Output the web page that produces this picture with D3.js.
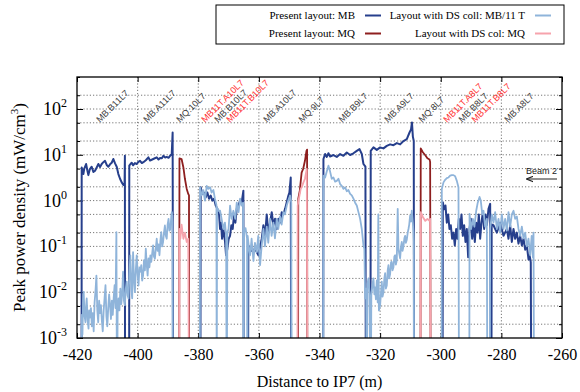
<!DOCTYPE html>
<html>
<head>
<meta charset="utf-8">
<script src="https://cdn.jsdelivr.net/npm/d3@7/dist/d3.min.js"></script>
<style>
  body { margin: 0; background: #fff; }
  svg { display: block; }
</style>
</head>
<body>
<svg id="chart" width="580" height="392"></svg>
<script>
// values below 1e-3 are off the bottom of the log axis (1e-5 = "zero")
const mbPresent = [
  [-418.5,1e-5],[-418.45,5.3],[-418.2,4.5],[-417.9,3.8],[-417.6,5.0],[-417.0,6.3],[-416.6,4.6],[-416.25,3.6],
  [-415.8,4.8],[-415.15,5.5],[-414.6,4.2],[-414.05,4.5],[-413.5,5.3],[-412.95,6.3],[-412.4,5.4],[-411.85,6.3],
  [-411.3,6.9],[-410.75,7.4],[-410.2,6.0],[-409.65,5.5],[-409.1,6.2],[-408.55,6.7],[-408.0,8.1],[-407.45,6.5],
  [-406.9,5.5],[-406.35,3.8],[-405.8,3.0],[-405.25,2.5],[-404.7,2.2],[-404.3,2.4],[-404.2,9.5],[-404.15,1e-5],
  [-402.8,1e-5],[-402.75,5.8],[-402.35,6.3],[-401.95,6.7],[-401.5,5.9],[-400.9,6.6],[-400.3,6.3],[-399.75,7.0],
  [-399.2,7.4],[-398.6,6.6],[-398.1,6.9],[-397.3,7.6],[-396.45,8.8],[-395.9,7.5],[-395.35,7.8],[-394.5,8.3],
  [-393.7,8.8],[-393.1,7.9],[-392.6,8.5],[-392.0,8.4],[-391.5,9.5],[-390.9,8.7],[-390.4,9.0],[-389.8,8.6],
  [-389.3,9.5],[-388.75,10.3],[-388.45,30.6],[-388.3,1e-5],
  [-379.3,1e-5],[-379.2,1.95],[-378.64,1.4],[-378.09,1.5],[-377.54,1.18],[-376.99,1.5],[-376.44,1.1],[-375.89,1.29],
  [-375.34,1.0],[-374.79,1.1],[-374.24,0.78],[-373.69,0.66],[-373.14,0.5],[-372.81,0.24],[-372.48,0.33],[-372.15,0.147],
  [-371.71,0.24],[-371.16,0.125],[-370.83,0.064],[-370.39,0.089],[-369.95,0.147],[-369.51,0.17],[-369.07,0.29],
  [-368.63,0.24],[-368.19,0.5],[-367.75,0.33],[-367.31,0.66],[-366.76,0.78],[-366.21,1.0],[-365.66,0.92],
  [-365.11,1.65],[-364.95,1e-5],
  [-363.6,1e-5],[-363.46,0.105],[-362.36,0.08],[-361.26,0.089],[-360.16,0.064],[-359.06,0.147],[-358.51,0.29],
  [-357.96,0.17],[-357.41,0.5],[-356.86,0.2],[-356.31,0.33],[-355.76,0.56],[-355.21,0.29],[-354.66,0.4],
  [-354.11,0.24],[-353.56,0.4],[-353.01,0.33],[-352.46,0.56],[-351.91,0.5],[-351.36,0.66],[-350.81,0.92],
  [-350.26,1.29],[-349.93,1.5],[-349.49,3.2],[-349.3,1e-5],
  [-338.8,1e-5],[-338.7,8.1],[-338.15,10.4],[-337.6,9.0],[-337.05,10.8],[-336.5,9.2],[-335.4,9.9],[-334.3,9.0],
  [-333.2,10.4],[-332.1,9.5],[-331.0,11.2],[-329.9,9.9],[-328.8,10.8],[-327.7,12.2],[-326.8,13.3],[-326.05,10.4],
  [-325.5,6.3],[-324.85,5.5],[-324.7,1e-5],
  [-323.2,1e-5],[-323.1,12.2],[-322.2,14.5],[-321.1,12.8],[-320.0,14.5],[-318.9,13.8],[-317.8,15.7],[-316.7,16.9],
  [-315.6,16.2],[-314.5,18.0],[-313.4,16.9],[-312.3,20.0],[-311.2,22.0],[-310.3,30.7],[-309.8,36],[-309.5,51],
  [-309.2,25],[-308.9,20],[-308.8,1e-5],
  [-299.4,1e-5],[-299.32,0.92],[-298.88,0.65],[-298.44,0.78],[-298.0,0.33],[-297.56,0.5],[-297.12,0.24],
  [-296.68,0.29],[-296.24,0.147],[-295.8,0.2],[-295.36,0.105],[-294.92,0.24],[-294.48,0.147],[-294.04,0.4],
  [-293.6,0.24],[-293.16,0.5],[-292.72,0.17],[-292.28,0.29],[-291.84,0.125],[-291.4,0.24],[-290.96,0.058],
  [-290.52,0.24],[-290.08,0.4],[-289.64,0.147],[-289.2,0.29],[-288.76,0.125],[-288.32,0.33],[-287.88,0.2],
  [-287.44,0.5],[-287.0,0.147],[-286.56,0.33],[-286.12,0.56],[-285.68,0.24],[-285.24,0.5],[-284.8,0.29],
  [-284.25,0.66],[-283.7,0.85],[-283.4,1e-5],
  [-283.3,1e-5],[-283.2,0.3],[-282.6,0.29],[-281.5,0.2],[-280.4,0.33],[-279.3,0.17],[-278.2,0.24],[-277.65,0.147],
  [-277.1,0.29],[-276.55,0.125],[-276.0,0.24],[-275.45,0.147],[-274.9,0.2],[-274.35,0.115],[-273.8,0.17],
  [-273.25,0.105],[-272.7,0.147],[-272.15,0.085],[-271.6,0.105],[-271.05,0.052],[-270.7,0.064],[-270.3,0.045],
  [-270.1,1e-5]
];

const mqPresent = [
  [-386.3,1e-5],[-386.2,8.4],[-385.5,8.1],[-384.9,5.3],[-384.4,3.0],[-383.8,1.8],[-383.3,1.4],[-383.05,1.3],[-383.0,1e-5],
  [-347.1,1e-5],[-347.0,1.1],[-346.5,1.65],[-345.9,4.1],[-345.4,4.9],[-344.8,7.4],[-344.3,12.2],[-344.1,13],[-344.0,1e-5],
  [-306.7,1e-5],[-306.6,13.8],[-305.9,11.4],[-305.1,9.8],[-304.4,8.4],[-303.7,7.9],[-303.5,7.0],[-303.3,1e-5]
];

const mbDS = [
  [-418.5,1e-5],[-418.4,0.0032],[-418.2,0.0012],[-418.0,0.006],[-417.8,0.0102],[-417.5,0.003],[-417.2,0.0022],
  [-417.0,0.005],[-416.8,0.0073],[-416.5,0.0025],[-416.2,0.0016],[-416.0,0.004],[-415.7,0.0028],[-415.4,0.0045],
  [-415.1,0.0018],[-414.8,0.0035],[-414.5,0.0014],[-414.2,0.006],[-413.9,0.0105],[-413.6,0.023],[-413.3,0.004],
  [-413.0,0.0022],[-412.7,0.0065],[-412.4,0.0035],[-412.1,0.0052],[-411.8,0.0024],[-411.5,0.0014],[-411.2,0.004],
  [-410.9,0.0075],[-410.6,0.0142],[-410.3,0.003],[-410.0,0.0018],[-409.7,0.0045],[-409.4,0.009],[-409.1,0.0052],
  [-408.8,0.0026],[-408.5,0.0065],[-408.2,0.0032],[-407.9,0.0075],[-407.6,0.0142],[-407.3,0.0045],[-407.0,0.205],
  [-406.8,1e-5],[-406.6,0.0035],[-406.3,0.0073],[-406.0,0.004],[-405.7,0.012],[-405.4,0.0055],[-405.1,0.009],
  [-404.8,0.028],[-404.5,0.0065],[-404.2,0.0052],[-403.9,0.012],[-403.6,0.017],[-403.3,0.0085],[-403.0,0.0073],
  [-402.7,0.025],[-402.4,0.064],[-402.1,0.012],[-401.8,0.0073],[-401.5,0.075],[-401.2,0.02],[-400.9,0.01],
  [-400.6,0.03],[-400.3,0.064],[-400.0,0.025],[-399.7,0.014],[-399.4,0.035],[-399.1,0.028],[-398.8,0.039],
  [-398.5,0.018],[-398.2,0.023],[-397.9,0.05],[-397.6,0.03],[-397.3,0.089],[-397.0,0.04],[-396.7,0.023],
  [-396.4,0.055],[-396.1,0.035],[-395.8,0.064],[-395.5,0.046],[-395.2,0.07],[-394.9,0.105],[-394.6,0.06],
  [-394.3,0.054],[-394.0,0.09],[-393.7,0.147],[-393.4,0.08],[-393.1,0.11],[-392.8,0.064],[-392.5,0.13],
  [-392.2,0.205],[-391.9,0.1],[-391.6,0.125],[-391.3,0.2],[-391.0,0.286],[-390.7,0.17],[-390.4,0.147],
  [-390.1,0.3],[-389.8,0.4],[-389.5,0.22],[-389.2,0.24],[-388.9,0.45],[-388.7,0.56],[-388.5,0.34],[-388.4,1e-5],
  [-379.5,1e-5],[-379.4,1.95],[-378.9,1.3],[-378.3,1.7],[-377.8,1.0],[-377.2,2.1],[-376.7,1.8],[-376.1,1.95],
  [-375.6,1.5],[-375.0,1.7],[-374.5,1.1],[-374.0,0.8],[-373.9,1e-5],[-373.8,0.7],[-373.3,0.6],[-372.8,0.6],
  [-372.3,0.4],[-371.7,0.24],[-371.2,0.33],[-370.8,0.17],[-370.6,1e-5],[-370.4,0.2],[-370.0,0.24],[-369.5,0.78],
  [-369.0,0.4],[-368.4,0.6],[-367.8,0.4],[-367.3,0.9],[-366.7,0.56],[-366.2,1.1],[-365.7,0.78],[-365.2,0.9],
  [-365.1,1e-5],[-364.9,0.2],[-364.4,0.25],[-363.9,0.15],[-363.8,1e-5],[-363.7,0.17],[-363.4,0.11],[-362.9,0.064],
  [-362.4,0.147],[-361.8,0.048],[-361.3,0.12],[-360.7,0.075],[-360.2,0.17],[-359.6,0.039],[-359.1,0.1],
  [-358.5,0.24],[-358.0,0.1],[-357.4,0.27],[-356.9,0.12],[-356.3,0.4],[-355.8,0.17],[-355.2,0.33],[-354.7,0.15],
  [-354.1,0.4],[-353.6,0.24],[-353.0,0.45],[-352.5,0.3],[-351.9,0.56],[-351.4,0.5],[-350.8,0.78],[-350.3,1.0],
  [-349.7,1.29],[-349.3,0.9],[-349.2,1e-5],
  [-338.8,1e-5],[-338.7,3.5],[-338.15,3.2],[-337.6,4.3],[-337.05,5.8],[-336.5,4.3],[-335.95,3.0],[-335.4,3.2],
  [-334.85,2.6],[-334.3,2.7],[-333.75,3.0],[-333.2,2.3],[-332.65,2.1],[-332.1,1.8],[-331.55,1.95],[-331.0,1.6],
  [-330.45,1.7],[-329.9,1.4],[-329.35,1.3],[-328.8,1.1],[-328.25,0.9],[-327.7,0.78],[-327.15,0.56],[-326.6,0.4],
  [-326.05,0.24],[-325.5,0.105],[-325.2,0.089],[-324.95,0.0073],[-324.6,0.012],[-324.4,1e-5],[-324.2,0.015],
  [-323.85,0.02],[-323.5,0.01],[-323.1,1e-5],[-322.9,0.0086],[-322.5,0.015],[-322.2,0.02],[-321.9,0.009],
  [-321.65,0.0128],[-321.4,0.007],[-321.1,0.018],[-320.8,0.006],[-320.6,0.5],[-320.4,0.004],[-320.0,0.0052],
  [-319.7,0.01],[-319.45,0.017],[-319.2,0.008],[-318.9,0.01],[-318.6,0.02],[-318.35,0.026],[-318.1,0.012],
  [-317.8,0.014],[-317.5,0.03],[-317.25,0.039],[-317.0,0.02],[-316.7,0.025],[-316.4,0.045],[-316.15,0.046],
  [-315.9,0.03],[-315.6,0.035],[-315.3,0.06],[-315.05,0.064],[-314.8,0.04],[-314.5,0.05],[-314.2,0.66],
  [-313.95,0.089],[-313.7,0.07],[-313.4,0.055],[-313.1,0.1],[-312.85,0.125],[-312.6,0.08],[-312.3,0.1],
  [-312.0,0.15],[-311.75,0.17],[-311.5,0.12],[-311.2,0.14],[-310.9,0.2],[-310.65,0.24],[-310.4,0.3],
  [-310.1,0.47],[-309.8,0.35],[-309.55,0.6],[-309.2,0.33],[-309.0,0.2],[-308.9,0.13],[-308.8,1e-5],
  [-299.7,1e-5],[-299.65,1.8],[-299.1,2.5],[-298.55,2.85],[-298.0,3.1],[-297.45,3.2],[-296.9,3.5],[-296.35,3.6],
  [-295.8,3.6],[-295.25,3.4],[-294.7,2.7],[-294.15,1.95],[-293.95,1e-5],
  [-290.6,1e-5],[-290.5,0.51],[-290.0,0.24],[-289.4,0.4],[-288.9,0.27],[-288.3,0.6],[-287.8,0.9],[-287.2,1.2],
  [-286.8,1.0],[-286.3,0.5],[-285.9,0.6],[-285.35,0.27],[-284.8,0.4],[-284.6,1e-5],
  [-283.8,1e-5],[-283.7,0.24],[-283.15,0.5],[-282.6,0.33],[-282.05,0.56],[-281.5,0.24],[-280.95,0.4],[-280.4,0.2],
  [-279.85,0.5],[-279.3,0.24],[-278.75,0.4],[-278.2,0.22],[-277.65,0.56],[-277.1,0.27],[-276.55,0.5],[-276.0,0.6],
  [-275.45,0.4],[-274.9,0.45],[-274.35,0.24],[-273.8,0.17],[-273.25,0.27],[-272.7,0.15],[-272.15,0.2],
  [-271.6,0.1],[-271.05,0.147],[-270.5,0.064],[-270.0,0.17],[-269.6,0.058],[-269.4,0.2],[-269.2,1e-5]
];

const mqDS = [
  [-386.3,1e-5],[-386.2,0.24],[-385.9,0.147],[-385.5,0.3],[-384.9,0.147],[-384.4,0.2],[-383.8,0.125],[-383.3,0.147],[-383.0,1e-5],
  [-347.3,1e-5],[-347.2,0.78],[-346.6,1.3],[-346.2,1.8],[-345.8,2.0],[-345.3,2.5],[-344.8,3.0],[-344.2,4.9],[-343.9,1e-5],
  [-306.7,1e-5],[-306.6,0.56],[-305.9,0.44],[-305.1,0.36],[-304.4,0.4],[-303.7,0.36],[-303.5,0.4],[-303.3,1e-5]
];

const magnetNames = ["MB.B11L7","MB.A11L7","MQ.10L7","MB11T.A10L7","MB.B10L7","MB11T.B10L7","MB.A10L7","MQ.9L7",
  "MB.B9L7","MB.A9L7","MQ.8L7","MB11T.A8L7","MB.B8L7","MB11T.B8L7","MB.A8L7"];
const magnetPos = [-412.4,-396.9,-386.0,-377.8,-373.5,-369.5,-357.3,-345.7,-332.5,-317.4,-306.1,-297.9,-292.9,-288.6,-277.8];
const magnetIs11T = [false,false,false,true,false,true,false,false,false,false,false,true,false,true,false];

const xTicks = [-420,-400,-380,-360,-340,-320,-300,-280,-260];
const yExponents = [-3,-2,-1,0,1,2];

const seriesNames = ["Present layout: MB","Present layout: MQ","Layout with DS coll: MB/11 T","Layout with DS col: MQ"];
const seriesColors = ["#263f8c","#8e1f1f","#8fb4da","#f6a3ac"];

const plot = {left: 77, right: 562, top: 77, bottom: 338};
const serif = "'Liberation Serif', 'Times New Roman', serif";
const sans = "'Liberation Sans', Arial, sans-serif";

const svg = d3.select("#chart");

const x = d3.scaleLinear().domain([-420, -260]).range([plot.left, plot.right]);
const y = d3.scaleLog().domain([1e-3, 500]).range([plot.bottom, plot.top]);

// grid values at 1, 2, 5 x 10^n
const gridY = [];
yExponents.forEach(e => [1, 2, 5].forEach(m => gridY.push(m * Math.pow(10, e))));
const gridYInner = gridY.filter(v => v > 1.0001e-3 && v < 499);
const minorY = gridY.filter(v => !yExponents.some(e => Math.abs(v - Math.pow(10, e)) < 1e-12));

const grid = svg.append("g").attr("stroke", "#666").attr("stroke-width", 0.9).attr("stroke-dasharray", "1.2,2");
grid.selectAll(".gx").data(xTicks.slice(1, -1)).join("line")
  .attr("x1", d => x(d)).attr("x2", d => x(d)).attr("y1", plot.top).attr("y2", plot.bottom);
grid.selectAll(".gy").data(gridYInner).join("line")
  .attr("x1", plot.left).attr("x2", plot.right).attr("y1", d => y(d)).attr("y2", d => y(d));

// axes ticks (inward, all four sides)
svg.append("g").attr("transform", `translate(0,${plot.bottom})`)
  .call(d3.axisBottom(x).tickValues(xTicks).tickSizeInner(-5).tickSizeOuter(0).tickPadding(11).tickFormat(d => String(d)))
  .call(g => g.select(".domain").remove())
  .call(g => g.selectAll(".tick text").attr("font-family", serif).attr("font-size", 16).attr("fill", "#000"));
svg.append("g").attr("transform", `translate(0,${plot.top})`)
  .call(d3.axisTop(x).tickValues(xTicks).tickSizeInner(-5).tickSizeOuter(0).tickFormat(""))
  .call(g => g.select(".domain").remove());
[[d3.axisLeft, plot.left], [d3.axisRight, plot.right]].forEach(([ax, pos]) => {
  svg.append("g").attr("transform", `translate(${pos},0)`)
    .call(ax(y).tickValues(yExponents.map(e => Math.pow(10, e))).tickSizeInner(-6).tickSizeOuter(0).tickFormat(""))
    .call(g => g.select(".domain").remove());
  svg.append("g").attr("transform", `translate(${pos},0)`)
    .call(ax(y).tickValues(minorY).tickSizeInner(-3).tickSizeOuter(0).tickFormat(""))
    .call(g => g.select(".domain").remove());
});

// y tick labels 10^n
const yLab = svg.append("g").attr("font-family", serif).attr("fill", "#000");
yExponents.forEach(e => {
  const t = yLab.append("text").attr("x", plot.left - 10).attr("y", y(Math.pow(10, e)) + 6)
    .attr("text-anchor", "end").attr("font-size", 18).text("10");
  t.append("tspan").attr("dy", -8).attr("font-size", 12).text(e);
});

// data lines
svg.append("clipPath").attr("id", "plotclip").append("rect")
  .attr("x", plot.left).attr("y", plot.top).attr("width", plot.right - plot.left).attr("height", plot.bottom - plot.top);
const line = d3.line().x(d => x(d[0])).y(d => y(d[1]));
const lines = svg.append("g").attr("clip-path", "url(#plotclip)");
[mbPresent, mqPresent, mbDS, mqDS].forEach((s, i) => {
  lines.append("path").attr("d", line(s)).attr("fill", "none")
    .attr("stroke", seriesColors[i]).attr("stroke-width", i === 0 ? 2 : 1.8)
    .attr("stroke-linejoin", "round");
});

// magnet labels
const mLab = svg.append("g").attr("font-family", sans).attr("font-size", 9);
magnetNames.forEach((n, i) => {
  mLab.append("text")
    .attr("transform", `translate(${x(magnetPos[i])},123) rotate(-45)`)
    .attr("fill", magnetIs11T[i] ? "#ff2b2b" : "#3a3a3a")
    .text(n);
});

// beam direction
svg.append("defs").append("marker").attr("id", "arr").attr("viewBox", "0 0 10 10")
  .attr("refX", 9).attr("refY", 5).attr("markerWidth", 7).attr("markerHeight", 7).attr("orient", "auto")
  .append("path").attr("d", "M0,1 L10,5 L0,9").attr("fill", "none").attr("stroke", "#222").attr("stroke-width", 1.5);
svg.append("line").attr("x1", 557).attr("x2", 527).attr("y1", 179).attr("y2", 179)
  .attr("stroke", "#222").attr("stroke-width", 1).attr("marker-end", "url(#arr)");
svg.append("text").attr("x", 526).attr("y", 174).attr("font-family", sans).attr("font-size", 9)
  .attr("fill", "#222").text("Beam 2");

// frame
svg.append("rect").attr("x", plot.left).attr("y", plot.top)
  .attr("width", plot.right - plot.left).attr("height", plot.bottom - plot.top)
  .attr("fill", "none").attr("stroke", "#000").attr("stroke-width", 1.3);

// axis titles
svg.append("text").attr("x", (plot.left + plot.right) / 2).attr("y", 387)
  .attr("text-anchor", "middle").attr("font-family", serif).attr("font-size", 16).text("Distance to IP7 (m)");
const yt = svg.append("text").attr("transform", `translate(25,${(plot.top + plot.bottom) / 2}) rotate(-90)`)
  .attr("text-anchor", "middle").attr("font-family", serif).attr("font-size", 17);
yt.append("tspan").text("Peak power density (mW/cm");
yt.append("tspan").attr("dy", -7).attr("font-size", 11).text("3");
yt.append("tspan").attr("dy", 7).text(")");

// legend
const leg = svg.append("g");
leg.append("rect").attr("x", 216).attr("y", 5).attr("width", 348).attr("height", 39)
  .attr("fill", "#fff").attr("stroke", "#000").attr("stroke-width", 1);
const legPos = [[355, 19], [355, 37], [525, 19], [525, 37]];
seriesNames.forEach((n, i) => {
  const [lx, ly] = legPos[i];
  leg.append("text").attr("x", lx).attr("y", ly).attr("text-anchor", "end")
    .attr("font-family", serif).attr("font-size", 11).text(n);
  leg.append("line").attr("x1", lx + 10).attr("x2", lx + 26).attr("y1", ly - 3.5).attr("y2", ly - 3.5)
    .attr("stroke", seriesColors[i]).attr("stroke-width", 2);
});
</script>
</body>
</html>
